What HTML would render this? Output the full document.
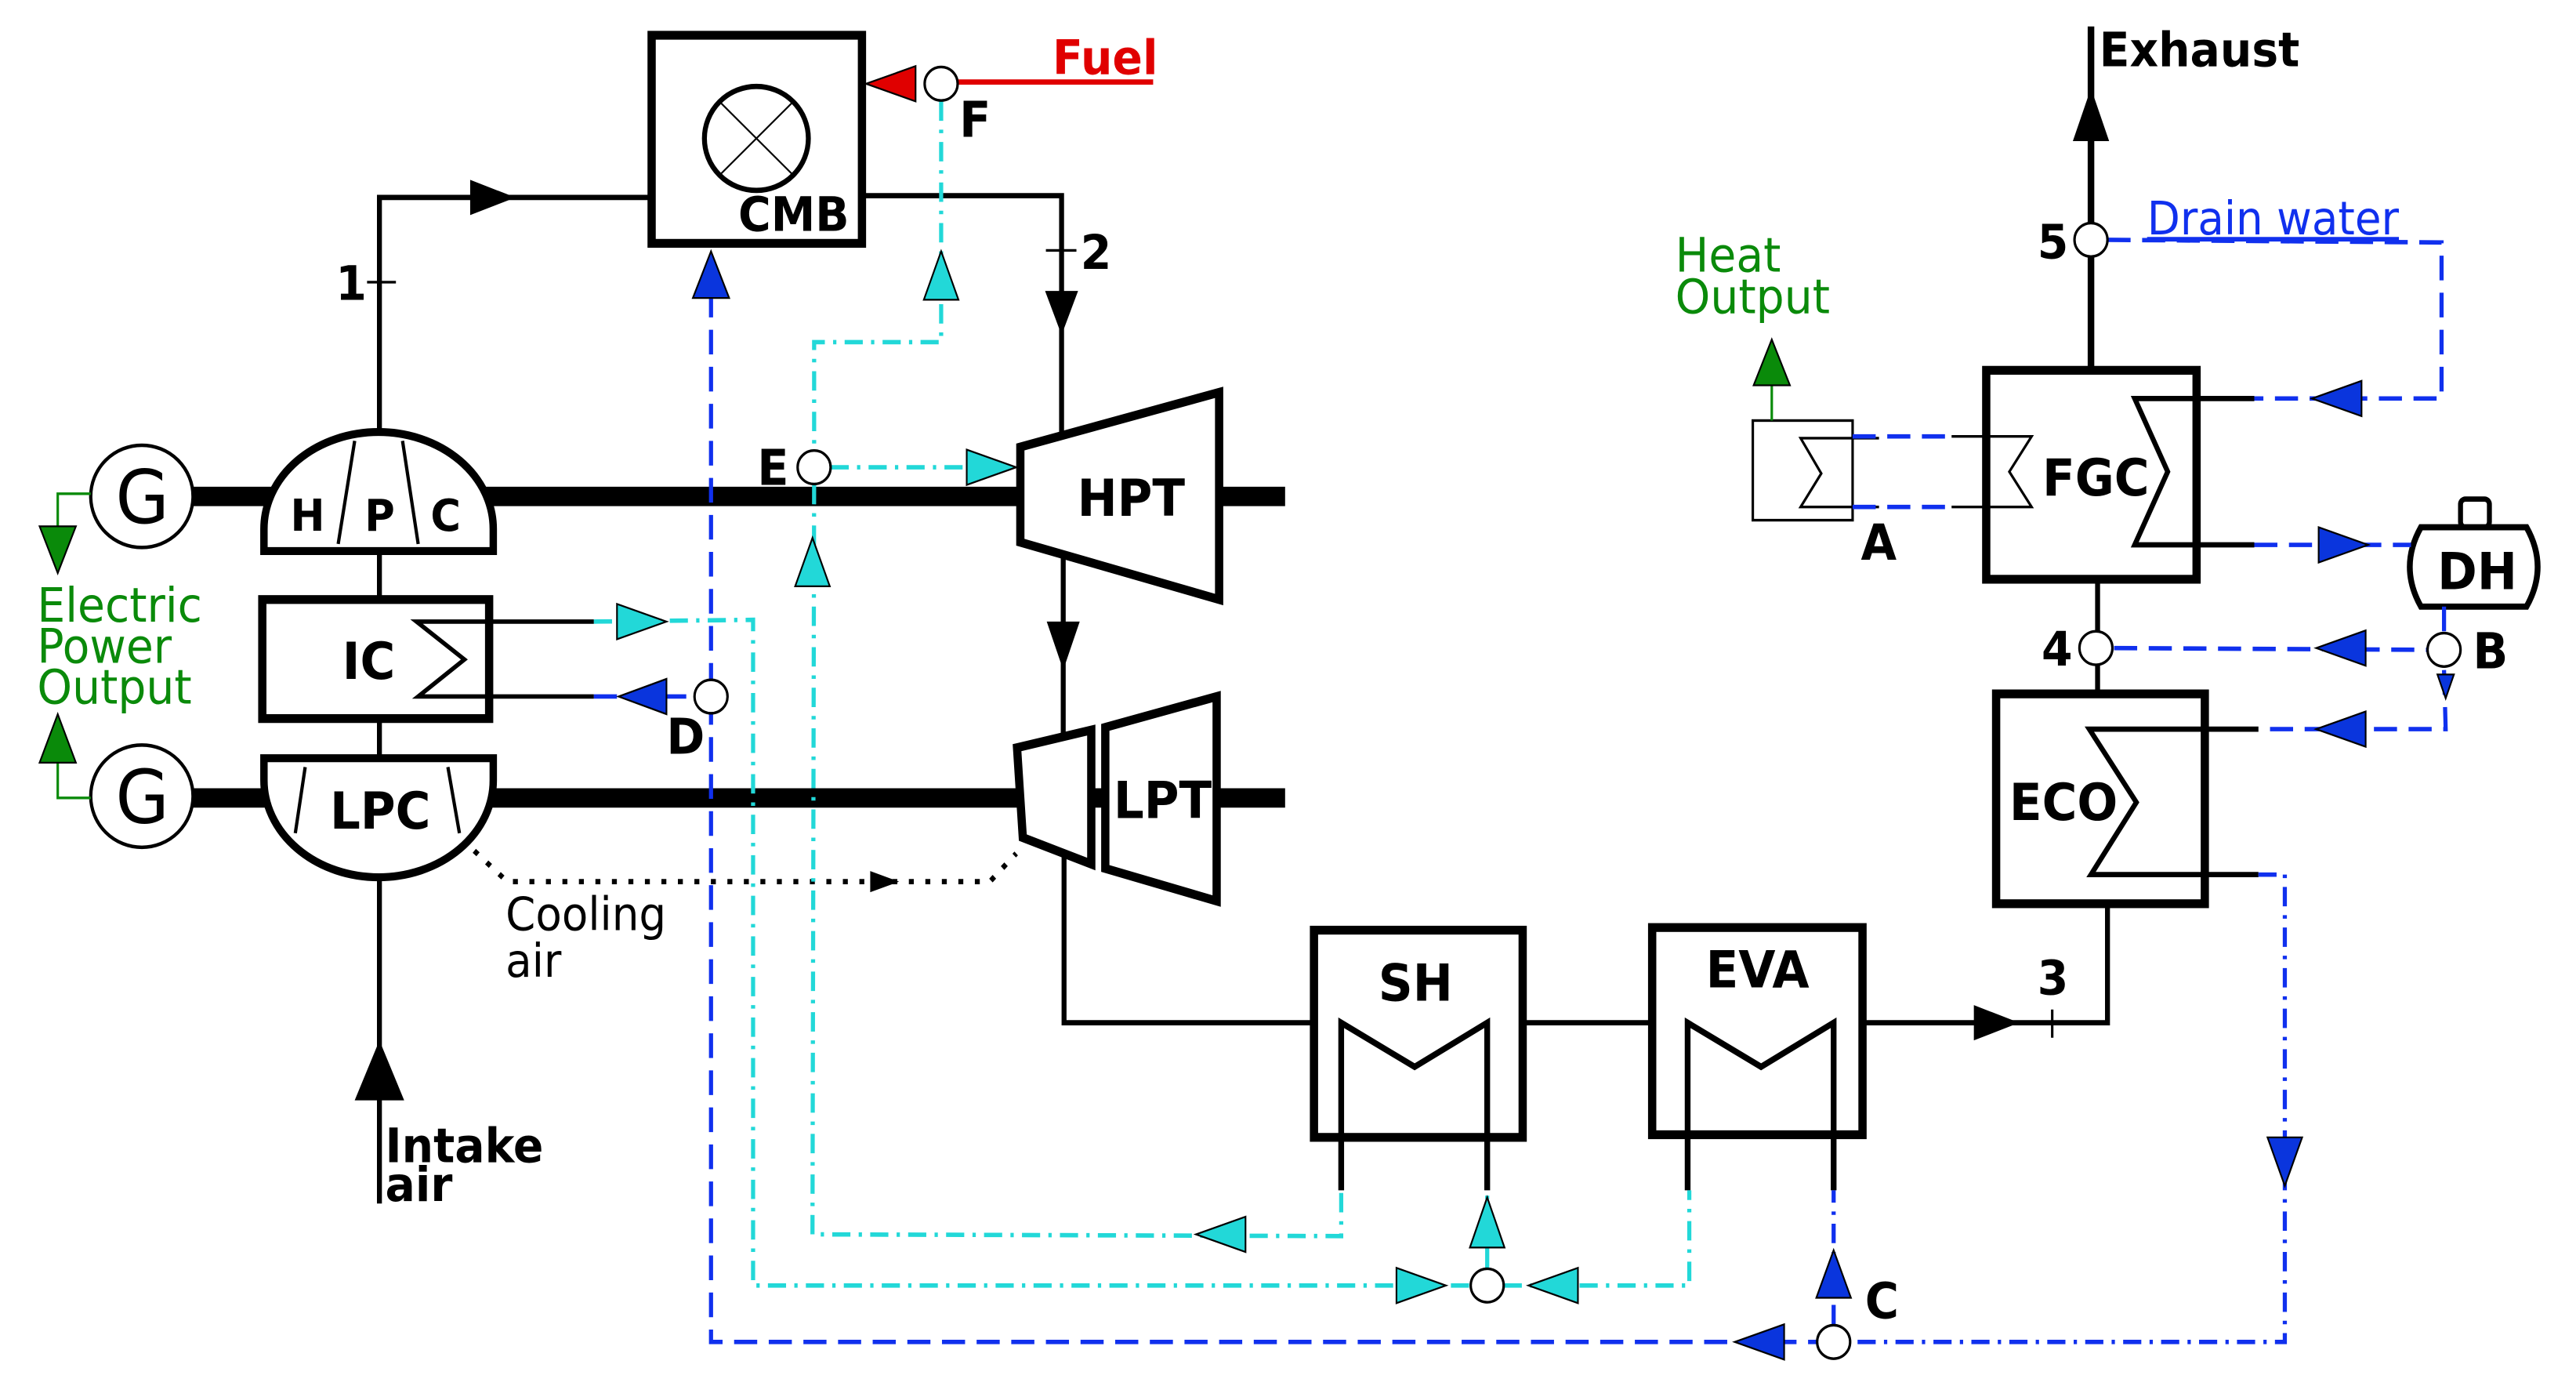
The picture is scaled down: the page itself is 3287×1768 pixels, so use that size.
<!DOCTYPE html>
<html><head><meta charset="utf-8"><style>
html,body{margin:0;padding:0;background:#fff;}
svg{display:block;}
text{font-family:"DejaVu Sans","Liberation Sans",sans-serif;}
.b{font-weight:bold;}
</style></head><body>
<svg width="3287" height="1768" viewBox="0 0 3123 1572" preserveAspectRatio="none" xmlns="http://www.w3.org/2000/svg">
<g fill="none" stroke="#000">
<line x1="230" y1="563" x2="1558" y2="563" stroke-width="22"/>
<line x1="230" y1="905" x2="1558" y2="905" stroke-width="22"/>
<polyline points="460,490 460,224 790,224" stroke-width="6"/>
<polyline points="1045,222 1287,222 1287,505" stroke-width="6"/>
<line x1="1289" y1="615" x2="1289" y2="840" stroke-width="6"/>
<polyline points="1290,970 1290,1160 1593,1160" stroke-width="6"/>
<line x1="1846" y1="1160" x2="2003" y2="1160" stroke-width="6"/>
<polyline points="2258,1160 2555,1160 2555,1025" stroke-width="6"/>
<line x1="2543" y1="787" x2="2543" y2="657" stroke-width="6"/>
<line x1="2535" y1="420" x2="2535" y2="30" stroke-width="8"/>
<line x1="460" y1="625" x2="460" y2="680" stroke-width="6"/>
<line x1="460" y1="815" x2="460" y2="860" stroke-width="6"/>
<line x1="460" y1="995" x2="460" y2="1365" stroke-width="6"/>
<line x1="445" y1="320" x2="480" y2="320" stroke-width="3"/>
<line x1="1268" y1="284" x2="1305" y2="284" stroke-width="3"/>
<line x1="2488" y1="1145" x2="2488" y2="1177" stroke-width="3"/>
<rect x="790" y="40" width="255" height="236" stroke-width="10" fill="#fff"/>
<ellipse cx="917" cy="157" rx="63" ry="59" stroke-width="6"/>
<line x1="872" y1="115" x2="962" y2="199" stroke-width="2"/>
<line x1="962" y1="115" x2="872" y2="199" stroke-width="2"/>
<ellipse cx="172" cy="563" rx="62" ry="58" stroke-width="4" fill="#fff"/>
<ellipse cx="172" cy="903" rx="62" ry="58" stroke-width="4" fill="#fff"/>
<path d="M320,625 L320,600 A139,110 0 0 1 598,600 L598,625 Z" stroke-width="9" fill="#fff"/>
<line x1="430" y1="500" x2="410" y2="617" stroke-width="4"/>
<line x1="488" y1="500" x2="507" y2="617" stroke-width="4"/>
<rect x="318" y="680" width="275" height="135" stroke-width="10" fill="#fff"/>
<polyline points="720,705 505,705 563,748 507,790 720,790" stroke-width="5"/>
<path d="M320,860 L598,860 L598,885 A139,110 0 0 1 320,885 Z" stroke-width="9" fill="#fff"/>
<line x1="370" y1="870" x2="358" y2="945" stroke-width="4"/>
<line x1="543" y1="870" x2="557" y2="945" stroke-width="4"/>
<polygon points="1237,507 1478,445 1478,680 1237,615" stroke-width="10" fill="#fff"/>
<polygon points="1233,848 1323,828 1323,980 1240,950" stroke-width="10" fill="#fff"/>
<polygon points="1340,825 1475,790 1475,1022 1340,985" stroke-width="10" fill="#fff"/>
<rect x="1593" y="1055" width="253" height="235" stroke-width="10" fill="#fff"/>
<polyline points="1626,1350 1626,1160 1715,1210 1803,1160 1803,1350" stroke-width="7"/>
<rect x="2003" y="1052" width="255" height="235" stroke-width="10" fill="#fff"/>
<polyline points="2046,1350 2046,1160 2135,1210 2223,1160 2223,1350" stroke-width="7"/>
<rect x="2420" y="787" width="253" height="238" stroke-width="10" fill="#fff"/>
<polyline points="2738,827 2533,827 2590,910 2535,992 2738,992" stroke-width="6"/>
<rect x="2408" y="420" width="255" height="237" stroke-width="10" fill="#fff"/>
<polyline points="2733,452 2588,452 2628,535 2588,618 2733,618" stroke-width="6"/>
<polyline points="2366,495 2463,495 2436,535 2463,575 2366,575" stroke-width="3"/>
<rect x="2125" y="477" width="121" height="113" stroke-width="3" fill="#fff"/>
<polyline points="2278,497 2183,497 2208,537 2183,575 2278,575" stroke-width="3"/>
<path d="M2935,598 L3063,598 Q3090,643 3063,688 L2935,688 Q2908,643 2935,598 Z" stroke-width="7" fill="#fff"/>
<rect x="2983" y="566" width="35" height="32" rx="6" stroke-width="6"/>
<path d="M575,965 L615,1000 L1200,1000 L1232,968" stroke-width="6" stroke-dasharray="6,14"/>
</g>
<line x1="1160" y1="93" x2="1398" y2="93" stroke="#e00000" stroke-width="6"/>
<polygon points="1050,95 1110,75 1110,115" fill="#e00000" stroke="#000" stroke-width="2"/>
<g fill="none" stroke="#22d8d8" stroke-width="5" stroke-dasharray="22,10,4,10">
<polyline points="1141,115 1141,388 987,388 987,510"/>
<line x1="1007" y1="530" x2="1235" y2="530"/>
<polyline points="987,550 985,1400 1626,1402 1626,1350"/>
<polyline points="720,705 913,703 913,1458 1783,1458"/>
<line x1="1803" y1="1438" x2="1803" y2="1350"/>
<polyline points="1823,1458 2048,1458 2048,1350"/>
</g>
<g fill="none" stroke="#1030ee" stroke-width="5" stroke-dasharray="28,14">
<polyline points="862,290 862,1522 2203,1522"/>
<line x1="720" y1="790" x2="842" y2="790"/>
<polyline points="2555,272 2960,275 2960,452 2733,452"/>
<line x1="2733" y1="618" x2="2923" y2="618"/>
<line x1="2563" y1="735" x2="2943" y2="737"/>
<polyline points="2963,760 2965,827 2738,827"/>
<line x1="2963" y1="688" x2="2963" y2="717"/>
<line x1="2246" y1="495" x2="2366" y2="495"/>
<line x1="2246" y1="575" x2="2366" y2="575"/>
</g>
<g fill="none" stroke="#1030ee" stroke-width="5" stroke-dasharray="22,10,4,10">
<polyline points="2738,992 2770,992 2770,1522 2243,1522"/>
<line x1="2223" y1="1502" x2="2223" y2="1350"/>
</g>
<g fill="none" stroke="#0a8a0a" stroke-width="3">
<polyline points="110,560 70,560 70,600"/>
<polyline points="70,862 70,905 110,905"/>
<line x1="2148" y1="477" x2="2148" y2="437"/>
</g>
<g stroke="#000" stroke-width="2">
<polygon points="70,650 48,597 92,597" fill="#0a8a0a"/>
<polygon points="70,810 48,865 92,865" fill="#0a8a0a"/>
<polygon points="2148,385 2126,437 2170,437" fill="#0a8a0a"/>
<polygon points="1141,285 1120,340 1162,340" fill="#22d8d8"/>
<polygon points="1232,530 1172,510 1172,550" fill="#22d8d8"/>
<polygon points="985,610 964,665 1006,665" fill="#22d8d8"/>
<polygon points="808,705 748,685 748,725" fill="#22d8d8"/>
<polygon points="1450,1400 1510,1380 1510,1420" fill="#22d8d8"/>
<polygon points="1753,1458 1693,1438 1693,1478" fill="#22d8d8"/>
<polygon points="1853,1458 1913,1438 1913,1478" fill="#22d8d8"/>
<polygon points="1803,1358 1782,1415 1824,1415" fill="#22d8d8"/>
<polygon points="862,285 840,338 884,338" fill="#0a35dd"/>
<polygon points="750,790 808,770 808,810" fill="#0a35dd"/>
<polygon points="2103,1522 2163,1502 2163,1542" fill="#0a35dd"/>
<polygon points="2223,1418 2202,1472 2244,1472" fill="#0a35dd"/>
<polygon points="2770,1345 2749,1290 2791,1290" fill="#0a35dd"/>
<polygon points="2803,452 2863,432 2863,472" fill="#0a35dd"/>
<polygon points="2871,618 2811,598 2811,638" fill="#0a35dd"/>
<polygon points="2808,735 2868,715 2868,755" fill="#0a35dd"/>
<polygon points="2808,827 2868,807 2868,847" fill="#0a35dd"/>
<polygon points="2965,792 2955,765 2975,765" fill="#0a35dd"/>
</g>
<g fill="#000">
<polygon points="625,224 570,204 570,244"/>
<polygon points="1287,380 1267,330 1307,330"/>
<polygon points="1289,760 1269,705 1309,705"/>
<polygon points="460,1180 430,1248 490,1248"/>
<polygon points="1090,1000 1055,988 1055,1012"/>
<polygon points="2448,1160 2393,1140 2393,1180"/>
<polygon points="2535,100 2513,160 2557,160"/>
</g>
<g fill="#fff" stroke="#000" stroke-width="3">
<ellipse cx="1141" cy="95" rx="20" ry="19"/>
<ellipse cx="987" cy="530" rx="20" ry="19"/>
<ellipse cx="862" cy="790" rx="20" ry="19"/>
<ellipse cx="1803" cy="1458" rx="20" ry="19"/>
<ellipse cx="2223" cy="1522" rx="20" ry="19"/>
<ellipse cx="2535" cy="272" rx="20" ry="19"/>
<ellipse cx="2541" cy="735" rx="20" ry="19"/>
<ellipse cx="2963" cy="737" rx="20" ry="19"/>
</g>
<g class="b" font-size="58" fill="#000">
<text x="895" y="262" font-size="54">CMB</text>
<text x="1306" y="585">HPT</text>
<text x="1350" y="928">LPT</text>
<text x="415" y="770">IC</text>
<text x="400" y="940">LPC</text>
<text x="352" y="602" font-size="50">H</text>
<text x="442" y="602" font-size="50">P</text>
<text x="522" y="602" font-size="50">C</text>
<text x="1671" y="1135">SH</text>
<text x="2068" y="1120">EVA</text>
<text x="2436" y="930">ECO</text>
<text x="2476" y="562">FGC</text>
<text x="2955" y="668">DH</text>
<text x="407" y="340" font-size="54">1</text>
<text x="1310" y="305" font-size="54">2</text>
<text x="2470" y="1128" font-size="54">3</text>
<text x="2475" y="755" font-size="54">4</text>
<text x="2470" y="293" font-size="54">5</text>
<text x="1163" y="155" font-size="56">F</text>
<text x="918" y="550" font-size="56">E</text>
<text x="808" y="855" font-size="56">D</text>
<text x="2256" y="635" font-size="56">A</text>
<text x="2998" y="758" font-size="56">B</text>
<text x="2261" y="1495" font-size="56">C</text>
<text x="2545" y="75" font-size="54">Exhaust</text>
<text x="467" y="1318" font-size="54">Intake</text>
<text x="467" y="1362" font-size="54">air</text>
<text x="1276" y="84" font-size="54" fill="#e00000">Fuel</text>
</g>
<g font-size="84" fill="#000">
<text x="140" y="593">G</text>
<text x="140" y="933">G</text>
</g>
<g font-size="54" fill="#0a8a0a">
<text x="45" y="705">Electric</text>
<text x="45" y="752">Power</text>
<text x="45" y="798">Output</text>
<text x="2031" y="308">Heat</text>
<text x="2031" y="355">Output</text>
</g>
<text x="613" y="1055" font-size="52" fill="#000">Cooling</text>
<text x="613" y="1108" font-size="52" fill="#000">air</text>
<text x="2603" y="266" font-size="52" fill="#1030ee" text-decoration="underline">Drain water</text>
</svg>
</body></html>
